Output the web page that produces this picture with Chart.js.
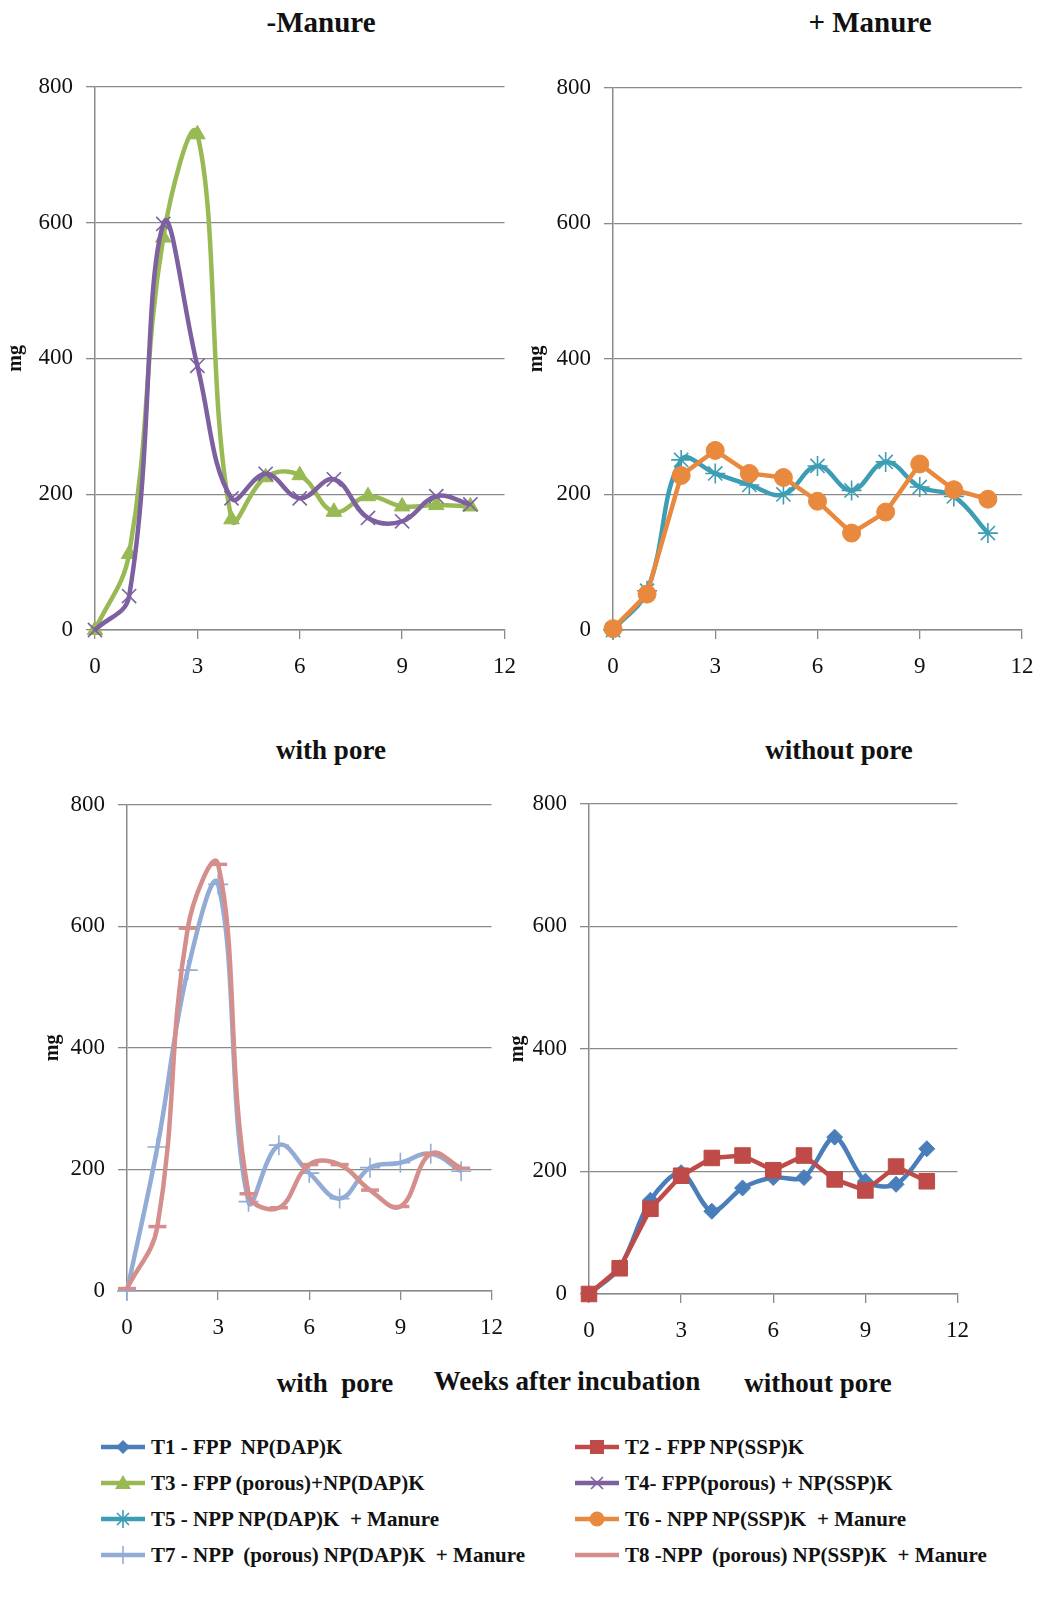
<!DOCTYPE html>
<html>
<head>
<meta charset="utf-8">
<title>Weeks after incubation</title>
<script src="https://cdn.jsdelivr.net/npm/chart.js@4.4.1/dist/chart.umd.min.js"></script>
<style>
  body { margin: 0; background: #fff; }
  #page { position: relative; width: 1064px; height: 1602px; overflow: hidden;
          font-family: "Liberation Serif", "Times New Roman", serif; color: #111; }
  canvas { position: absolute; }
  .lbl { position: absolute; font-weight: bold; line-height: 30px; white-space: pre;
         transform: translateX(-50%); }
  .leg { position: absolute; height: 26px; display: flex; align-items: center;
         font-weight: bold; font-size: 21px; white-space: pre; }
  .leg svg { margin-right: 5px; }
</style>
</head>
<body>
<div id="page">
  <div class="lbl" style="left:321px; top:7px; font-size:29px;">-Manure</div>
  <div class="lbl" style="left:870px; top:7px; font-size:29px;">+ Manure</div>
  <div class="lbl" style="left:331px; top:735px; font-size:27px;">with pore</div>
  <div class="lbl" style="left:839px; top:735px; font-size:27px;">without pore</div>
  <div class="lbl" style="left:335px; top:1368px; font-size:27px;">with  pore</div>
  <div class="lbl" style="left:567px; top:1366px; font-size:27px;">Weeks after incubation</div>
  <div class="lbl" style="left:818px; top:1368px; font-size:27px;">without pore</div>

  <canvas id="c1" width="530" height="640" style="left:0px; top:60px;"></canvas>
  <canvas id="c2" width="534" height="639" style="left:521px; top:61px;"></canvas>
  <canvas id="c3" width="480" height="583" style="left:37px; top:778px;"></canvas>
  <canvas id="c4" width="481" height="587" style="left:502px; top:777px;"></canvas>

  <div id="legend"></div>
</div>

<script>
// weeks after incubation
var weeks = [0, 1, 2, 3, 4, 5, 6, 7, 8, 9, 10, 11];
var xTicks = [0, 3, 6, 9, 12];
var yTicks = [0, 200, 400, 600, 800];

// mg
var t1 = [0, 43, 153, 198, 135, 173, 190, 190, 256, 184, 179, 237];
var t2 = [0, 42, 139, 193, 222, 226, 202, 226, 187, 169, 208, 184];
var t3 = [0, 112, 578, 730, 163, 225, 228, 174, 197, 182, 184, 182];
var t4 = [0, 50, 598, 389, 194, 230, 194, 222, 165, 160, 197, 185];
var t5 = [0, 58, 251, 231, 214, 200, 242, 206, 248, 211, 197, 143];
var t6 = [2, 53, 228, 265, 231, 225, 190, 143, 174, 245, 207, 193];
var t7 = [0, 237, 528, 669, 147, 240, 194, 152, 203, 211, 226, 197];
var t8 = [4, 106, 597, 702, 160, 137, 208, 208, 166, 139, 226, 202];

var names = [
  "T1 - FPP  NP(DAP)K",
  "T2 - FPP NP(SSP)K",
  "T3 - FPP (porous)+NP(DAP)K",
  "T4- FPP(porous) + NP(SSP)K",
  "T5 - NPP NP(DAP)K  + Manure",
  "T6 - NPP NP(SSP)K  + Manure",
  "T7 - NPP  (porous) NP(DAP)K  + Manure",
  "T8 -NPP  (porous) NP(SSP)K  + Manure"
];
var colors = ["#4a7ebb", "#be4b48", "#98b954", "#7d60a0", "#3d9db5", "#e8893e", "#93acd6", "#d48e8b"];
var marks = ["rectRot", "rect", "triangle", "crossRot", "star", "circle", "cross", "line"];
var sizes = [8, 11, 9, 10, 10, 9, 10, 9];
var tensions = [0.3, 0, 0.4, 0.4, 0.4, 0, 0.4, 0.4];
var values = [t1, t2, t3, t4, t5, t6, t7, t8];

var fam = "'Liberation Serif', 'Times New Roman', serif";
var gridColor = "#8a8a8a";

function series(i, order) {
  var filled = ["rectRot", "rect", "triangle", "circle"].indexOf(marks[i]) >= 0;
  return {
    label: names[i],
    data: weeks.map(function (w, k) { return { x: w, y: values[i][k] }; }),
    borderColor: colors[i],
    backgroundColor: colors[i],
    borderWidth: 4.5,
    tension: tensions[i],
    pointStyle: marks[i],
    pointRadius: sizes[i],
    pointBackgroundColor: colors[i],
    pointBorderColor: colors[i],
    pointBorderWidth: filled ? 1 : (marks[i] == "line" ? 3.5 : 1.6),
    clip: false,
    fill: false,
    order: order
  };
}

function makeChart(id, idx, box) {
  var ctx = document.getElementById(id);
  return new Chart(ctx, {
    type: "line",
    data: {
      datasets: idx.map(function (i, n) { return series(i, idx.length - n); })
    },
    options: {
      responsive: false,
      animation: false,
      layout: { padding: { top: box.padTop, right: box.padRight, left: 0, bottom: 0 } },
      plugins: {
        legend: { display: false },
        tooltip: { enabled: false }
      },
      scales: {
        x: {
          type: "linear",
          min: xTicks[0],
          max: xTicks[xTicks.length - 1],
          afterFit: function (s) { s.height = box.xHeight; },
          afterBuildTicks: function (s) { s.ticks = xTicks.map(function (v) { return { value: v }; }); },
          ticks: { autoSkip: false, maxRotation: 0, padding: 14, color: "#111",
                   font: { family: fam, size: 23 } },
          grid: { drawOnChartArea: false, tickLength: 9, color: gridColor, lineWidth: 1.3 },
          border: { color: gridColor, width: 1.5 }
        },
        y: {
          min: yTicks[0],
          max: yTicks[yTicks.length - 1],
          afterFit: function (s) { s.width = box.yWidth; },
          afterBuildTicks: function (s) { s.ticks = yTicks.map(function (v) { return { value: v }; }); },
          ticks: { padding: 13, color: "#111", font: { family: fam, size: 23 } },
          grid: { tickLength: 9, color: gridColor, lineWidth: 1.3 },
          border: { color: gridColor, width: 1.5 },
          title: {
            display: true,
            text: "mg",
            color: "#111",
            padding: { top: 4, bottom: 0 },
            font: { family: fam, size: 20, weight: "bold" }
          }
        }
      }
    }
  });
}

makeChart("c1", [2, 3], { yWidth: 95, xHeight: 70, padTop: 20, padRight: 20 });
makeChart("c2", [4, 5], { yWidth: 92, xHeight: 70, padTop: 20, padRight: 33 });
makeChart("c3", [6, 7], { yWidth: 90, xHeight: 70, padTop: 20, padRight: 20 });
makeChart("c4", [0, 1], { yWidth: 87, xHeight: 70, padTop: 20, padRight: 20 });

// legend under the charts, two columns
function markerSvg(i) {
  var c = colors[i];
  var s = '<svg width="46" height="26" viewBox="0 0 46 26">' +
    '<line x1="1" y1="13" x2="45" y2="13" stroke="' + c + '" stroke-width="4.5"/>';
  var m = marks[i];
  if (m == "rectRot") s += '<polygon points="23,6 30,13 23,20 16,13" fill="' + c + '"/>';
  if (m == "rect") s += '<rect x="16" y="6" width="14" height="14" fill="' + c + '"/>';
  if (m == "triangle") s += '<polygon points="23,5 31,19 15,19" fill="' + c + '"/>';
  if (m == "circle") s += '<circle cx="23" cy="13" r="7.5" fill="' + c + '"/>';
  if (m == "crossRot" || m == "star")
    s += '<path d="M17 7 L29 19 M29 7 L17 19" stroke="' + c + '" stroke-width="1.6"/>';
  if (m == "star" || m == "cross")
    s += '<path d="M23 4 L23 22" stroke="' + c + '" stroke-width="1.6"/>';
  return s + "</svg>";
}

var legRows = [1447, 1483, 1519, 1555];
var legCols = [100, 574];
var legend = document.getElementById("legend");
names.forEach(function (n, i) {
  var d = document.createElement("div");
  d.className = "leg";
  d.style.left = legCols[i % 2] + "px";
  d.style.top = (legRows[Math.floor(i / 2)] - 13) + "px";
  d.innerHTML = markerSvg(i) + "<span></span>";
  d.querySelector("span").textContent = n;
  legend.appendChild(d);
});
</script>
</body>
</html>
